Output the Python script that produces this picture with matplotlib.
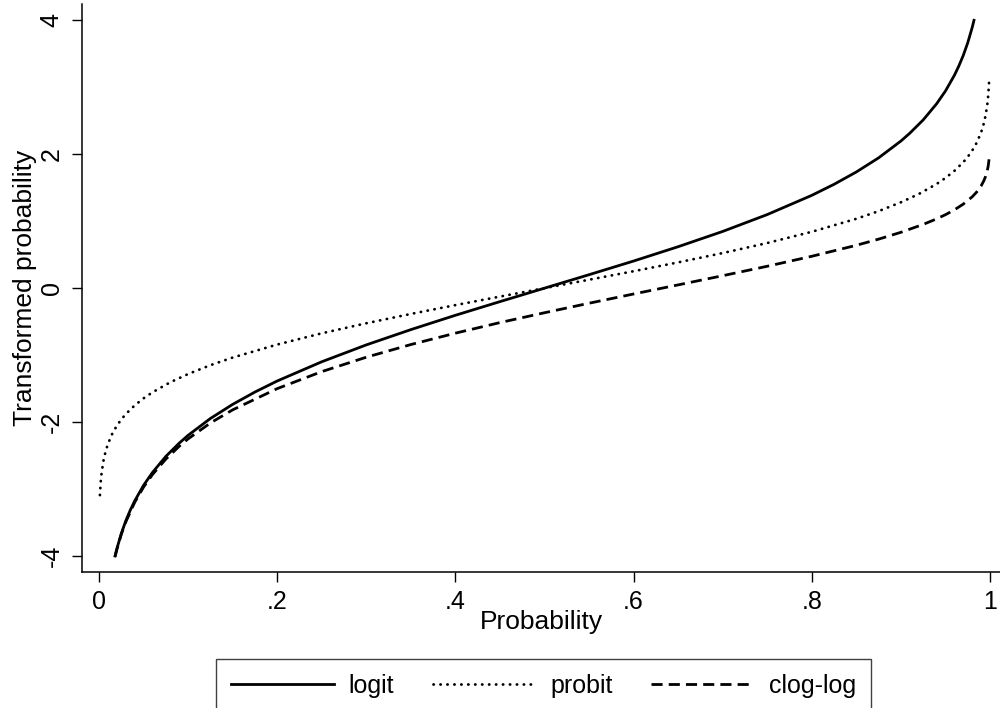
import matplotlib
matplotlib.use("Agg")
import matplotlib.pyplot as plt

plt.rcParams['font.family'] = ['Liberation Sans', 'DejaVu Sans']
plt.rcParams['axes.unicode_minus'] = False

# values
logit_p = [0.018, 0.02, 0.025, 0.03, 0.035, 0.04, 0.05, 0.06, 0.075, 0.09, 0.1,
           0.125, 0.15, 0.175, 0.2, 0.25, 0.3, 0.35, 0.4, 0.45, 0.5,
           0.55, 0.6, 0.65, 0.7, 0.75, 0.8, 0.825, 0.85, 0.875, 0.9, 0.91,
           0.925, 0.94, 0.95, 0.96, 0.965, 0.97, 0.975, 0.98, 0.982]
logit_y = [-3.999, -3.892, -3.664, -3.476, -3.317, -3.178, -2.944, -2.752, -2.512, -2.314, -2.197,
           -1.946, -1.735, -1.551, -1.386, -1.099, -0.847, -0.619, -0.405, -0.201, 0.0,
           0.201, 0.405, 0.619, 0.847, 1.099, 1.386, 1.551, 1.735, 1.946, 2.197, 2.314,
           2.512, 2.752, 2.944, 3.178, 3.317, 3.476, 3.664, 3.892, 3.999]

probit_p = [0.001, 0.002, 0.003, 0.005, 0.0075, 0.01, 0.015, 0.02, 0.025, 0.03, 0.04,
            0.05, 0.06, 0.08, 0.1, 0.125, 0.15, 0.2, 0.25, 0.3, 0.35, 0.4, 0.45, 0.5,
            0.55, 0.6, 0.65, 0.7, 0.75, 0.8, 0.85, 0.875, 0.9, 0.92, 0.94, 0.95,
            0.96, 0.97, 0.975, 0.98, 0.985, 0.99, 0.9925, 0.995, 0.997, 0.998, 0.999]
probit_y = [-3.090, -2.878, -2.748, -2.576, -2.432, -2.326, -2.170, -2.054, -1.960, -1.881, -1.751,
            -1.645, -1.555, -1.405, -1.282, -1.150, -1.036, -0.842, -0.674, -0.524, -0.385, -0.253, -0.126, 0.0,
            0.126, 0.253, 0.385, 0.524, 0.674, 0.842, 1.036, 1.150, 1.282, 1.405, 1.555, 1.645,
            1.751, 1.881, 1.960, 2.054, 2.170, 2.326, 2.432, 2.576, 2.748, 2.878, 3.090]

cloglog_p = [0.018, 0.02, 0.025, 0.03, 0.04, 0.05, 0.06, 0.075, 0.09, 0.1, 0.125, 0.15,
             0.2, 0.25, 0.3, 0.35, 0.4, 0.45, 0.5, 0.55, 0.6, 0.65, 0.7, 0.75, 0.8, 0.85,
             0.875, 0.9, 0.925, 0.94, 0.95, 0.96, 0.97, 0.98, 0.985, 0.99, 0.993, 0.995,
             0.997, 0.998, 0.999]
cloglog_y = [-4.008, -3.902, -3.676, -3.491, -3.199, -2.970, -2.783, -2.552, -2.361, -2.250, -2.013, -1.817,
             -1.500, -1.246, -1.031, -0.842, -0.672, -0.514, -0.367, -0.225, -0.087, 0.049, 0.186, 0.327, 0.476, 0.640,
             0.732, 0.834, 0.952, 1.034, 1.097, 1.169, 1.255, 1.364, 1.435, 1.527, 1.602, 1.667,
             1.759, 1.827, 1.933]

xticks = [0, 0.2, 0.4, 0.6, 0.8, 1]
xtick_labels = ['0', '.2', '.4', '.6', '.8', '1']
yticks = [-4, -2, 0, 2, 4]

fig = plt.figure(figsize=(10, 7.08), dpi=100)
ax = fig.add_axes([0.082, 0.192, 0.918, 0.802])

lw = 2.0
ax.plot(logit_p, logit_y, color='black', lw=lw, ls='-', label='logit')
ax.plot(probit_p, probit_y, color='black', lw=lw, ls=(0, (0.1, 2.4)),
        dash_capstyle='round', label='probit')
ax.plot(cloglog_p, cloglog_y, color='black', lw=lw, ls=(0, (4, 2.2)), label='clog-log')

ax.set_xlim(-0.0191, 1.0112)
ax.set_ylim(-4.239, 4.239)

for s in ['top', 'right']:
    ax.spines[s].set_visible(False)
for s in ['left', 'bottom']:
    ax.spines[s].set_linewidth(1.1)

ax.set_xticks(xticks)
ax.set_xticklabels(xtick_labels)
ax.set_yticks(yticks)
ax.set_yticklabels([str(v) for v in yticks])
ax.tick_params(axis='both', direction='out', length=7.2, width=1.0, labelsize=18)
ax.tick_params(axis='x', pad=6)
ax.tick_params(axis='y', pad=6, labelrotation=90)
for t in ax.get_yticklabels():
    t.set_va('center')

ax.set_xlabel('Probability', fontsize=19, labelpad=-3)
ax.set_ylabel('Transformed probability', fontsize=19, labelpad=2)

leg = fig.legend(loc='upper center', bbox_to_anchor=(0.5435, 1 - 659 / 708), ncol=3,
                 fontsize=18, handlelength=4.1, handletextpad=0.6, columnspacing=1.55,
                 borderpad=0.6, borderaxespad=0, fancybox=False, framealpha=1)
leg.get_frame().set_edgecolor('#404040')
leg.get_frame().set_linewidth(1.0)

fig.savefig('out.png', dpi=100)
